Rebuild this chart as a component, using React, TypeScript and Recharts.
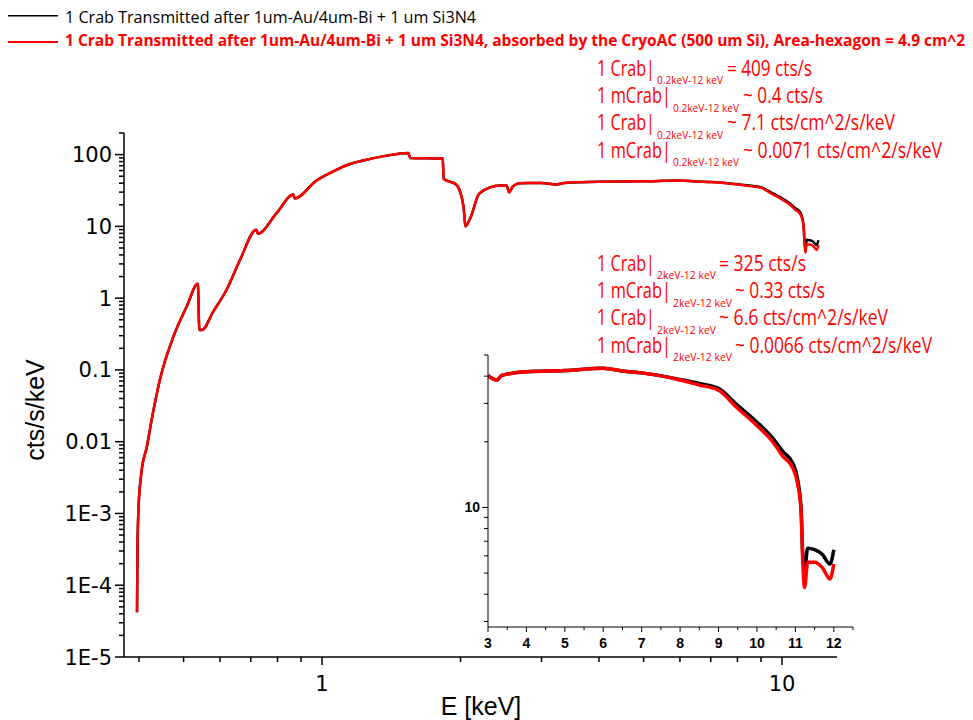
import React from "react";
import { Line, LineChart, XAxis, YAxis } from "recharts";

// photon energy (keV) and spectra (cts/s/keV)
const energy = [
  0.396, 0.397, 0.399, 0.405, 0.416, 0.426, 0.444, 0.475, 0.508, 0.537, 0.541, 0.548, 0.58, 0.62, 0.663,
  0.72, 0.725, 0.797, 0.866, 0.872, 0.974, 1.058, 1.15, 1.251, 1.383, 1.54, 1.555, 1.83, 1.838, 1.96, 2.03,
  2.05, 2.1, 2.2, 2.44, 2.52, 2.55, 2.6, 2.69, 3.0, 3.23, 3.36, 4.0, 5.0, 6.0, 6.5, 7.0, 8.0, 8.5, 9.0,
  9.46, 9.98, 10.41, 10.67, 10.93, 11.06, 11.15, 11.19, 11.24, 11.32, 11.5, 11.7, 11.9, 12.0,
];
const transmitted = [
  4.2e-5, 3.4e-4, 1.2e-3, 3.8e-3, 0.0085, 0.02, 0.073, 0.29, 0.77, 1.59, 0.36, 0.36, 0.65, 1.31, 3.4,
  9.0, 7.9, 15.4, 27.7, 24.5, 44, 58.5, 74, 85, 96.8, 105, 90, 88, 46, 38, 19,
  10, 13, 29, 37, 37, 30, 36, 40, 40.2, 38.4, 40.3, 41.9, 42.4, 43.5, 42.2, 41.4, 38.6, 37, 35.2,
  29.8, 24.8, 20.8, 18.1, 16, 13.4, 9.8, 6.2, 5.1, 6.5, 6.4, 6.1, 5.5, 6.4,
];
const absorbed = [
  4.2e-5, 3.4e-4, 1.2e-3, 3.8e-3, 0.0085, 0.02, 0.073, 0.29, 0.77, 1.59, 0.36, 0.36, 0.65, 1.31, 3.4,
  9.0, 7.9, 15.4, 27.7, 24.5, 44, 58.5, 74, 85, 96.8, 105, 90, 88, 46, 38, 19,
  10, 13, 29, 37, 37, 30, 36, 40, 40.2, 38.4, 40.3, 41.9, 42.4, 43.5, 42.2, 41.4, 38.4, 36.4, 34.5,
  28.9, 23.9, 20, 17.2, 15.2, 12.8, 9.5, 5.8, 4.3, 5.6, 5.6, 5.3, 4.7, 5.5,
];

const legendLabels = [
  "1 Crab Transmitted after 1um-Au/4um-Bi + 1 um Si3N4",
  "1 Crab Transmitted after 1um-Au/4um-Bi + 1 um Si3N4, absorbed by the CryoAC (500 um Si), Area-hexagon = 4.9 cm^2",
];
const rateHeads = ["1 Crab|", "1 mCrab|", "1 Crab|", "1 mCrab|"];
const bandLabels = ["0.2keV-12 keV", "2keV-12 keV"];
const band1Rates = ["= 409 cts/s", "~ 0.4 cts/s", "~ 7.1 cts/cm^2/s/keV", "~ 0.0071 cts/cm^2/s/keV"];
const band2Rates = ["= 325 cts/s", "~ 0.33 cts/s", "~ 6.6 cts/cm^2/s/keV", "~ 0.0066 cts/cm^2/s/keV"];

const mainXTicks = [0.4, 0.5, 0.6, 0.7, 0.8, 0.9, 1, 2, 3, 4, 5, 6, 7, 8, 9, 10];
const mainXMajor = [1, 10];
const mainXLabels = ["1", "10"];
const mainYTicks = [
  1e-5, 2e-5, 3e-5, 4e-5, 5e-5, 6e-5, 7e-5, 8e-5, 9e-5,
  1e-4, 2e-4, 3e-4, 4e-4, 5e-4, 6e-4, 7e-4, 8e-4, 9e-4,
  1e-3, 2e-3, 3e-3, 4e-3, 5e-3, 6e-3, 7e-3, 8e-3, 9e-3,
  0.01, 0.02, 0.03, 0.04, 0.05, 0.06, 0.07, 0.08, 0.09,
  0.1, 0.2, 0.3, 0.4, 0.5, 0.6, 0.7, 0.8, 0.9,
  1, 2, 3, 4, 5, 6, 7, 8, 9,
  10, 20, 30, 40, 50, 60, 70, 80, 90,
  100, 200,
];
const mainYMajor = [1e-5, 1e-4, 1e-3, 0.01, 0.1, 1, 10, 100];
const mainYLabels = ["1E-5", "1E-4", "1E-3", "0.01", "0.1", "1", "10", "100"];

const insetXTicks = [3, 3.5, 4, 4.5, 5, 5.5, 6, 6.5, 7, 7.5, 8, 8.5, 9, 9.5, 10, 10.5, 11, 11.5, 12, 12.5];
const insetXMajor = [3, 4, 5, 6, 7, 8, 9, 10, 11, 12];
const insetXLabels = ["3", "4", "5", "6", "7", "8", "9", "10", "11", "12"];
const insetYTicks = [3, 4, 5, 6, 7, 8, 9, 10, 20, 30, 40, 50];
const insetYMajor = [10];
const insetYLabels = ["10"];

const rows = energy.map((e, i) => ({ e, black: transmitted[i], red: absorbed[i] }));
const insetRows = rows.filter((r) => r.e >= 3);

const W = 973;
const H = 720;
const TICK_FONT = "'DejaVu Sans', sans-serif";
const TITLE_FONT = "'Liberation Sans', Arial, sans-serif";
const TEXT_FONT = "'Open Sans', 'Noto Sans', sans-serif";

const majorIndex = (v: number, majors: number[]) => majors.findIndex((m) => Math.abs(v / m - 1) < 1e-6);

const MainXTick = ({ x, y, payload }: any) => {
  const i = majorIndex(payload.value, mainXMajor);
  return (
    <g>
      <line x1={x} x2={x} y1={y} y2={y + (i >= 0 ? 8 : 5)} stroke="#000" strokeWidth={1.5} />
      {i >= 0 && (
        <text x={x} y={y + 34} textAnchor="middle" fontFamily={TICK_FONT} fontSize={21} fill="#000">
          {mainXLabels[i]}
        </text>
      )}
    </g>
  );
};

const MainYTick = ({ x, y, payload }: any) => {
  const i = majorIndex(payload.value, mainYMajor);
  return (
    <g>
      <line x1={x - (i >= 0 ? 9 : 5)} x2={x} y1={y} y2={y} stroke="#000" strokeWidth={1.5} />
      {i >= 0 && (
        <text x={x - 12} y={y + 7.5} textAnchor="end" fontFamily={TICK_FONT} fontSize={21} fill="#000">
          {mainYLabels[i]}
        </text>
      )}
    </g>
  );
};

const InsetXTick = ({ x, y, payload }: any) => {
  const i = majorIndex(payload.value, insetXMajor);
  return (
    <g>
      <line x1={x} x2={x} y1={y} y2={y + (i >= 0 ? 5 : 3)} stroke="#000" strokeWidth={1} />
      {i >= 0 && (
        <text x={x} y={y + 21} textAnchor="middle" fontFamily={TITLE_FONT} fontWeight="bold" fontSize={14} fill="#000">
          {insetXLabels[i]}
        </text>
      )}
    </g>
  );
};

const InsetYTick = ({ x, y, payload }: any) => {
  const i = majorIndex(payload.value, insetYMajor);
  return (
    <g>
      <line x1={x - (i >= 0 ? 6 : 4)} x2={x} y1={y} y2={y} stroke="#000" strokeWidth={1} />
      {i >= 0 && (
        <text x={x - 8} y={y + 5} textAnchor="end" fontFamily={TITLE_FONT} fontWeight="bold" fontSize={14} fill="#000">
          {insetYLabels[i]}
        </text>
      )}
    </g>
  );
};

// one block of "1 Crab|_band ..." lines; widths squeezed to match the narrow original font
function RateBlock({ top, band, rates, subWidth, restX }: any) {
  return (
    <g fill="#ff0000" fontFamily={TEXT_FONT}>
      {rateHeads.map((head, i) => {
        const base = top + i * 27.3;
        const milli = head.includes("m");
        const subX = milli ? 673 : 657;
        return (
          <g key={i}>
            <text x={597} y={base} fontSize={21} textLength={milli ? 74 : 58} lengthAdjust="spacingAndGlyphs">
              {head}
            </text>
            <text x={subX} y={base + 8.5} fontSize={11} textLength={subWidth} lengthAdjust="spacingAndGlyphs">
              {band}
            </text>
            <text x={restX[i]} y={base} fontSize={21} textLength={rates[i].w} lengthAdjust="spacingAndGlyphs">
              {rates[i].t}
            </text>
          </g>
        );
      })}
    </g>
  );
}

export default function App() {
  const block1 = band1Rates.map((t, i) => ({ t, w: [85, 80, 168, 199][i] }));
  const block2 = band2Rates.map((t, i) => ({ t, w: [87, 90, 169, 197][i] }));
  return (
    <div style={{ position: "absolute", left: 0, top: 0, width: W, height: H, background: "#fff" }}>
      <div style={{ position: "absolute", left: 0, top: 0 }}>
        <LineChart width={W} height={H} data={rows} margin={{ top: 133, right: 136, bottom: 62, left: 123 }}>
          <XAxis
            type="number"
            dataKey="e"
            scale="log"
            domain={[0.371, 13.17]}
            allowDataOverflow
            ticks={mainXTicks}
            interval={0}
            height={1}
            tickSize={0}
            tickMargin={0}
            tickLine={false}
            tick={(p: any) => <MainXTick {...p} />}
            axisLine={{ stroke: "#000", strokeWidth: 1.5 }}
          />
          <YAxis
            type="number"
            scale="log"
            domain={[1e-5, 200]}
            allowDataOverflow
            ticks={mainYTicks}
            interval={0}
            width={1}
            tickSize={0}
            tickMargin={0}
            tickLine={false}
            tick={(p: any) => <MainYTick {...p} />}
            axisLine={{ stroke: "#000", strokeWidth: 1.5 }}
          />
          <Line type="monotone" dataKey="black" stroke="#000000" strokeWidth={2.5} dot={false} isAnimationActive={false} />
          <Line type="monotone" dataKey="red" stroke="#ff0000" strokeWidth={2.5} dot={false} isAnimationActive={false} />
        </LineChart>
      </div>
      <div style={{ position: "absolute", left: 0, top: 0 }}>
        <LineChart width={W} height={H} data={insetRows} margin={{ top: 355, right: 120, bottom: 92, left: 487 }}>
          <XAxis
            type="number"
            dataKey="e"
            domain={[3, 12.5]}
            allowDataOverflow
            ticks={insetXTicks}
            interval={0}
            height={1}
            tickSize={0}
            tickMargin={0}
            tickLine={false}
            tick={(p: any) => <InsetXTick {...p} />}
            axisLine={{ stroke: "#000", strokeWidth: 1 }}
          />
          <YAxis
            type="number"
            scale="log"
            domain={[2.83, 50]}
            allowDataOverflow
            ticks={insetYTicks}
            interval={0}
            width={1}
            tickSize={0}
            tickMargin={0}
            tickLine={false}
            tick={(p: any) => <InsetYTick {...p} />}
            axisLine={{ stroke: "#000", strokeWidth: 1 }}
          />
          <Line type="monotone" dataKey="black" stroke="#000000" strokeWidth={3.5} dot={false} isAnimationActive={false} />
          <Line type="monotone" dataKey="red" stroke="#ff0000" strokeWidth={3.5} dot={false} isAnimationActive={false} />
        </LineChart>
      </div>
      <svg width={W} height={H} style={{ position: "absolute", left: 0, top: 0, pointerEvents: "none" }}>
        <line x1={8} x2={58} y1={15.7} y2={15.7} stroke="#000" strokeWidth={1.5} />
        <text x={65} y={22.5} fontFamily={TEXT_FONT} fontSize={16} textLength={411} lengthAdjust="spacingAndGlyphs">
          {legendLabels[0]}
        </text>
        <line x1={8} x2={58} y1={42} y2={42} stroke="#ff0000" strokeWidth={2} />
        <text
          x={65}
          y={46}
          fontFamily={TEXT_FONT}
          fontWeight="bold"
          fontSize={16}
          fill="#ff0000"
          textLength={900}
          lengthAdjust="spacingAndGlyphs"
        >
          {legendLabels[1]}
        </text>
        <RateBlock top={75.7} band={bandLabels[0]} rates={block1} subWidth={66} restX={[727, 743, 727, 743]} />
        <RateBlock top={270.7} band={bandLabels[1]} rates={block2} subWidth={59} restX={[719, 735, 719, 735]} />
        <text x={481} y={715} textAnchor="middle" fontFamily={TITLE_FONT} fontSize={25}>
          E [keV]
        </text>
        <text transform="translate(44,410) rotate(-90)" textAnchor="middle" fontFamily={TITLE_FONT} fontSize={25}>
          cts/s/keV
        </text>
      </svg>
    </div>
  );
}
